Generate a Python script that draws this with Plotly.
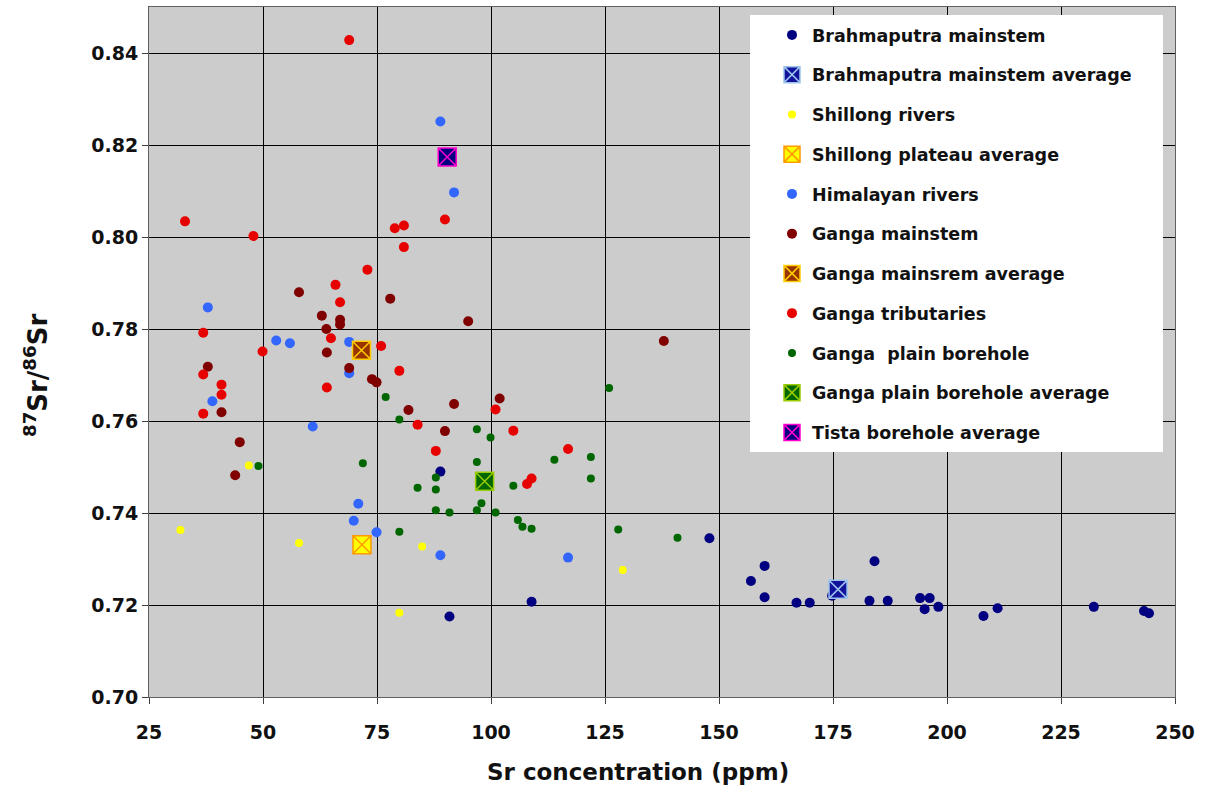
import plotly.graph_objects as go

# Sr concentration (ppm) and 87Sr/86Sr for each sample group
brahma_x = [88.9, 90.9, 108.9, 147.9, 157.0, 160.0, 160.0, 167.0, 169.9, 174.8, 184.1,
            183.0, 187.0, 194.1, 196.2, 195.1, 198.1, 208.0, 211.1, 232.2, 243.2, 244.3]
brahma_y = [0.7490, 0.7175, 0.7207, 0.7345, 0.7252, 0.7285, 0.7217, 0.7205, 0.7205, 0.7220, 0.7295,
            0.7209, 0.7209, 0.7215, 0.7215, 0.7191, 0.7196, 0.7176, 0.7193, 0.7196, 0.7187, 0.7182]
brahma_avg_x = [176.1]
brahma_avg_y = [0.7234]

shillong_x = [31.9, 46.9, 57.9, 84.9, 79.9, 128.9]
shillong_y = [0.7363, 0.7503, 0.7335, 0.7327, 0.7183, 0.7276]
shillong_avg_x = [71.7]
shillong_avg_y = [0.7331]

himal_x = [88.9, 91.9, 37.9, 52.9, 55.9, 68.9, 68.9, 38.9, 60.9, 70.9, 69.9, 74.9, 88.9, 116.9]
himal_y = [0.8251, 0.8097, 0.7847, 0.7775, 0.7769, 0.7772, 0.7704, 0.7643, 0.7588, 0.7420,
           0.7383, 0.7358, 0.7308, 0.7303]

ganga_x = [57.9, 77.9, 95.0, 62.9, 66.9, 66.9, 63.9, 64.0, 37.9, 68.9, 73.9, 74.9, 40.9, 81.9,
           91.9, 101.9, 89.9, 44.9, 43.9, 137.9]
ganga_y = [0.7880, 0.7866, 0.7817, 0.7829, 0.7820, 0.7810, 0.7800, 0.7749, 0.7718, 0.7715,
           0.7691, 0.7684, 0.7619, 0.7624, 0.7637, 0.7649, 0.7578, 0.7554, 0.7482, 0.7774]
ganga_avg_x = [71.6]
ganga_avg_y = [0.7754]

trib_x = [68.9, 32.9, 47.9, 89.9, 78.9, 80.9, 80.9, 72.9, 65.9, 66.9, 36.9, 64.9, 49.9, 75.9,
          36.9, 40.9, 40.9, 79.9, 64.0, 36.9, 83.9, 101.0, 104.9, 87.9, 116.9, 108.9, 107.9]
trib_y = [0.8428, 0.8034, 0.8002, 0.8038, 0.8019, 0.8025, 0.7978, 0.7929, 0.7896, 0.7858,
          0.7792, 0.7780, 0.7751, 0.7763, 0.7701, 0.7679, 0.7657, 0.7709, 0.7673, 0.7616,
          0.7592, 0.7625, 0.7579, 0.7535, 0.7539, 0.7475, 0.7463]

bore_x = [49.0, 71.9, 76.9, 79.9, 96.9, 99.9, 96.9, 87.9, 87.9, 83.9, 104.9, 113.9, 121.9,
          121.9, 87.9, 90.9, 96.9, 97.9, 101.0, 105.9, 106.9, 108.9, 79.9, 125.9, 127.9, 140.9]
bore_y = [0.7502, 0.7508, 0.7652, 0.7603, 0.7582, 0.7564, 0.7511, 0.7477, 0.7451, 0.7455,
          0.7459, 0.7516, 0.7522, 0.7475, 0.7406, 0.7401, 0.7406, 0.7421, 0.7401, 0.7385,
          0.7370, 0.7366, 0.7359, 0.7672, 0.7364, 0.7346]
bore_avg_x = [98.6]
bore_avg_y = [0.7469]

tista_avg_x = [90.4]
tista_avg_y = [0.8174]

x_ticks = [25, 50, 75, 100, 125, 150, 175, 200, 225, 250]
y_ticks = [0.70, 0.72, 0.74, 0.76, 0.78, 0.80, 0.82, 0.84]

FONT = "DejaVu Sans"

series = [
    ("Brahmaputra mainstem", brahma_x, brahma_y, "circle", 10, "#000080", None),
    ("Brahmaputra mainstem average", brahma_avg_x, brahma_avg_y, "square-x", 18, "#12129a", "#9cc3ee"),
    ("Shillong rivers", shillong_x, shillong_y, "circle", 8, "#ffff00", None),
    ("Shillong plateau average", shillong_avg_x, shillong_avg_y, "square-x", 18, "#ffff00", "#ff9900"),
    ("Himalayan rivers", himal_x, himal_y, "circle", 10, "#3366ff", None),
    ("Ganga mainstem", ganga_x, ganga_y, "circle", 10, "#800000", None),
    ("Ganga mainsrem average", ganga_avg_x, ganga_avg_y, "square-x", 18, "#993300", "#ffcc00"),
    ("Ganga tributaries", trib_x, trib_y, "circle", 10, "#e60000", None),
    ("Ganga  plain borehole", bore_x, bore_y, "circle", 8, "#006600", None),
    ("Ganga plain borehole average", bore_avg_x, bore_avg_y, "square-x", 18, "#006600", "#99cc00"),
    ("Tista borehole average", tista_avg_x, tista_avg_y, "square-x", 18, "#000080", "#ff00cc"),
]

fig = go.Figure()
for i, (name, xs, ys, sym, size, color, xcolor) in enumerate(series):
    marker = dict(symbol=sym, size=size, color=color)
    if xcolor:
        marker["line"] = dict(color=xcolor, width=1.5)
    else:
        marker["line"] = dict(width=0)
    fig.add_trace(go.Scatter(
        x=xs, y=ys, mode="markers", name=name.replace("  ", "&nbsp; "),
        legendgroup=f"g{i}", marker=marker,
    ))

axis_common = dict(
    showgrid=True, gridcolor="#000000", gridwidth=1,
    showline=True, linecolor="#606060", linewidth=1, mirror=True,
    ticks="outside", ticklen=6, tickcolor="#404040",
    zeroline=False,
    tickfont=dict(family=FONT, size=19, color="#111111", weight="bold"),
)

fig.update_xaxes(
    range=[25, 250], tickvals=x_ticks, ticktext=[str(v) for v in x_ticks],
    ticklabelstandoff=12,
    **axis_common,
)
fig.update_yaxes(
    range=[0.70, 0.85], tickvals=y_ticks, ticktext=[f"{v:.2f}" for v in y_ticks],
    **axis_common,
)

L, R, T, B = 149, 32, 7, 93
W, H = 1207, 790
pw, ph = W - L - R, H - T - B


def px_to_paper(px, py):
    return (px - L) / pw, (H - B - py) / ph


# axis titles
tx, ty = px_to_paper(638, 772)
fig.add_annotation(text="Sr concentration (ppm)", xref="paper", yref="paper",
                   x=tx, y=ty, xanchor="center", yanchor="middle", showarrow=False,
                   font=dict(family=FONT, size=23, color="#111111", weight="bold"))
tx, ty = px_to_paper(36, 376)
fig.add_annotation(text="<sup>87</sup>Sr/<sup>86</sup>Sr", xref="paper", yref="paper",
                   x=tx, y=ty, xanchor="center", yanchor="middle", showarrow=False,
                   textangle=-90,
                   font=dict(family=FONT, size=26, color="#111111", weight="bold"))

# white legend panel
x0, y0 = px_to_paper(750, 452)
x1, y1 = px_to_paper(1163, 15)
fig.add_shape(type="rect", xref="paper", yref="paper", x0=x0, y0=y0, x1=x1, y1=y1,
              fillcolor="#ffffff", line=dict(width=0), layer="above")

lx, ly = px_to_paper(772, 17)
fig.update_layout(
    width=W, height=H,
    margin=dict(l=L, r=R, t=T, b=B),
    plot_bgcolor="#cccccc", paper_bgcolor="#ffffff",
    showlegend=True,
    legend=dict(
        x=lx, y=ly, xanchor="left", yanchor="top",
        bgcolor="rgba(0,0,0,0)", borderwidth=0,
        traceorder="grouped", tracegroupgap=14, itemsizing="trace",
        font=dict(family=FONT, size=17.5, color="#111111", weight="bold"),
    ),
)

fig.write_html("out.html")
